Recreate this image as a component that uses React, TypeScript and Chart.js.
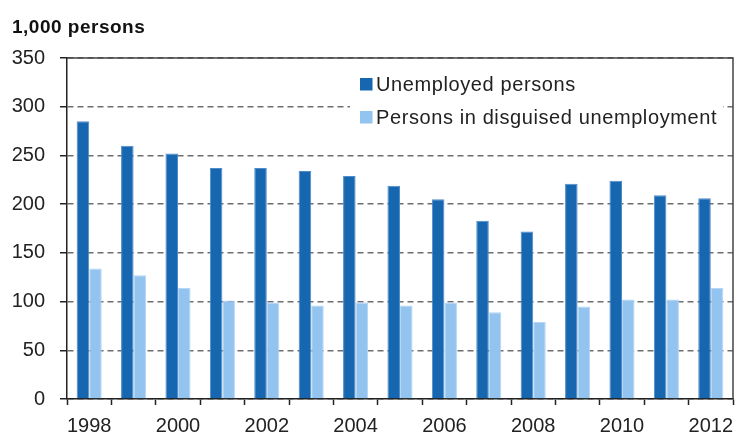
import { useEffect, useRef } from "react"
import { Chart, registerables } from "chart.js"

Chart.register(...registerables)

const years = [
  "1998", "1999", "2000", "2001", "2002", "2003", "2004", "2005",
  "2006", "2007", "2008", "2009", "2010", "2011", "2012",
]
const unemployed = [285, 260, 252, 237, 237, 234, 229, 219, 205, 183, 172, 221, 224, 209, 206]
const disguised = [134, 127, 114, 101, 99, 96, 99, 96, 99, 89, 79, 95, 102, 102, 114]
const seriesNames = ["Unemployed persons", "Persons in disguised unemployment"]
const yTicks = [0, 50, 100, 150, 200, 250, 300, 350]

const darkBlue = "#1767b0"
const lightBlue = "#93c4f0"
const fontFamily = "'Liberation Sans', Arial, sans-serif"

// title, legend box and the top/right frame of the plot
const decorations = {
  id: "decorations",
  afterDraw(chart: Chart) {
    const { ctx, chartArea } = chart
    ctx.save()

    ctx.strokeStyle = "#444"
    ctx.lineWidth = 1.5
    ctx.beginPath()
    ctx.moveTo(chartArea.left, chartArea.top)
    ctx.lineTo(chartArea.right, chartArea.top)
    ctx.lineTo(chartArea.right, chartArea.bottom)
    ctx.stroke()

    ctx.fillStyle = "#111"
    ctx.font = `bold 19px ${fontFamily}`
    ;(ctx as any).letterSpacing = "0.5px"
    ctx.textBaseline = "alphabetic"
    ctx.fillText("1,000 persons", 12, 33)

    ctx.fillStyle = "#fff"
    ctx.fillRect(350, 66, 373, 68)

    const colors = [darkBlue, lightBlue]
    ctx.font = `20px ${fontFamily}`
    ;(ctx as any).letterSpacing = "0.6px"
    seriesNames.forEach((name, i) => {
      const y = 90.5 + i * 33
      ctx.fillStyle = colors[i]
      ctx.fillRect(360, y - 12.5, 12.5, 12.5)
      ctx.fillStyle = "#222"
      ctx.fillText(name, 376, y)
    })

    ctx.restore()
  },
}

export default function App() {
  const chartRef = useRef<HTMLCanvasElement>(null)
  const chartInstance = useRef<Chart | null>(null)

  useEffect(() => {
    if (!chartRef.current) return
    if (chartInstance.current) {
      chartInstance.current.destroy()
    }

    const ctx = chartRef.current.getContext("2d")
    if (!ctx) return

    chartInstance.current = new Chart(ctx, {
      type: "bar",
      data: {
        labels: years,
        datasets: [
          {
            label: seriesNames[0],
            data: unemployed,
            backgroundColor: darkBlue,
            borderColor: "#4f8ccb",
            borderWidth: 1,
            categoryPercentage: 0.565,
            barPercentage: 1,
          },
          {
            label: seriesNames[1],
            data: disguised,
            backgroundColor: lightBlue,
            borderColor: "#b5d6f5",
            borderWidth: 1,
            categoryPercentage: 0.565,
            barPercentage: 1,
          },
        ],
      },
      options: {
        animation: false,
        responsive: true,
        maintainAspectRatio: false,
        layout: {
          padding: { top: 58, right: 2, left: 0, bottom: 0 },
        },
        plugins: {
          legend: { display: false },
          title: { display: false },
          tooltip: { enabled: false },
        },
        scales: {
          x: {
            offset: true,
            afterFit: (scale) => {
              scale.height = 34
              scale.paddingLeft = 0
              scale.paddingRight = 0
            },
            grid: {
              offset: true,
              drawOnChartArea: false,
              drawTicks: true,
              tickLength: 6,
              tickColor: "#222",
              tickWidth: 1.5,
            },
            border: { display: true, color: "#222", width: 1.5 },
            ticks: {
              autoSkip: false,
              maxRotation: 0,
              padding: 9,
              color: "#222",
              font: { family: fontFamily, size: 20 },
              callback: (_value, index) => (index % 2 === 0 ? years[index] : ""),
            },
          },
          y: {
            min: yTicks[0],
            max: yTicks[yTicks.length - 1],
            afterFit: (scale) => {
              scale.width = 67
              scale.paddingTop = 0
              scale.paddingBottom = 0
            },
            afterBuildTicks: (scale) => {
              scale.ticks = yTicks.map((v) => ({ value: v }))
            },
            grid: {
              color: "#6e6e6e",
              lineWidth: 1.5,
              drawTicks: true,
              tickLength: 7,
              tickColor: "#222",
              tickWidth: 1.5,
            },
            border: { display: true, color: "#222", width: 1.5, dash: [6, 4] },
            ticks: {
              padding: 15,
              color: "#222",
              font: { family: fontFamily, size: 20 },
            },
          },
        },
      },
      plugins: [decorations],
    })

    return () => {
      if (chartInstance.current) {
        chartInstance.current.destroy()
        chartInstance.current = null
      }
    }
  }, [])

  return (
    <div style={{ position: "fixed", left: 0, top: 0, width: 735, height: 433, background: "#fff" }}>
      <canvas ref={chartRef} />
    </div>
  )
}
